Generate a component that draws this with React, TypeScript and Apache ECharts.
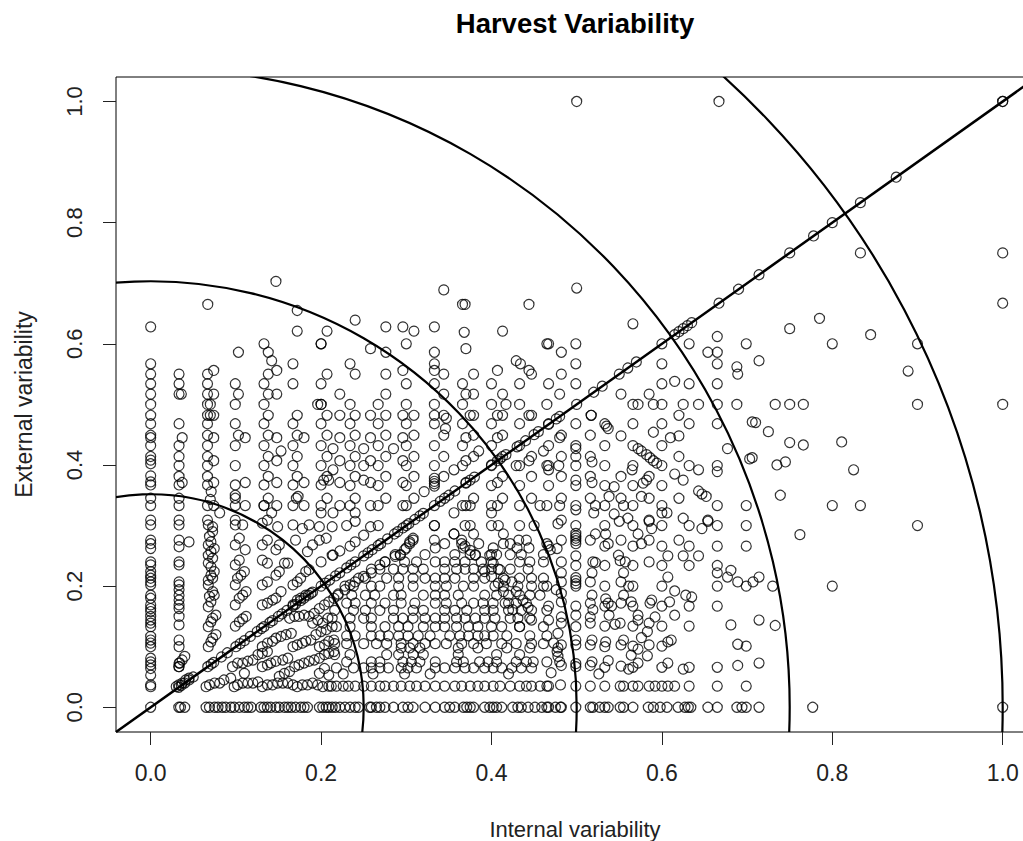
import React, { useEffect, useRef } from "react";
import * as echarts from "echarts";

const title = "Harvest Variability";
const xName = "Internal variability";
const yName = "External variability";
const tickValues = [0, 0.2, 0.4, 0.6, 0.8, 1.0];
const arcRadii = [0.25, 0.5, 0.75, 1.0];
const identityEnds = [-0.0407, 1.04];

// equal internal and external variability
const diagonal = [.033,.036,.04,.045,.05,.067,.071,.074,.083,.09,.1,.105,.11,.117,.125,.13,.133,.14,.143,.15,.154,.16,.167,.17,.176,.18,.185,.19,.2,.205,.21,.217,.222,.23,.235,.24,.25,.255,.26,.267,.27,.278,.286,.29,.296,.3,.303,.31,.316,.32,.333,.34,.35,.357,.37,.375,.38,.4,.407,.41,.417,.43,.44,.45,.455,.467,.476,.48,.5,.52,.53,.55,.56,.57,.6,.615,.62,.625,.63,.635,.667,.69,.714,.75,.778,.8,.833,.875,1];

// chains of points visible in the dense part of the cloud: [x, y]
const chainsDense: [number, number][] = [
  [.22,.187],[.228,.194],[.234,.202],[.24,.207],[.25,.216],[.259,.222],[.269,.235],[.275,.24],[.287,.249],[.293,.251],[.298,.26],[.304,.273],[.308,.279],
  [.356,.286],[.365,.276],[.369,.266],[.375,.259],[.381,.251],[.388,.24],[.392,.224],[.4,.216],[.408,.205],[.414,.191],[.42,.172],[.425,.161],[.433,.133],
  [.398,.251],[.402,.238],[.41,.227],[.416,.21],[.424,.207],[.429,.191],[.437,.177],[.443,.165],[.447,.144],
];

// columns: [x, y, y, ...]
const columnsLeft: number[][] = [
  [0,0,.034,.037,.053,.064,.07,.075,.081,.1,.106,.111,.117,.133,.139,.144,.15,.158,.163,.169,.18,.185,.202,.207,.213,.218,.224,.235,.24,.262,.27,.276,.301,.309,.333,.345,.367,.372,.382,.402,.408,.414,.432,.445,.449,.468,.482,.5,.517,.534,.55,.567,.628],
  [.0333,.067,.073,.1,.111,.136,.15,.163,.169,.177,.185,.194,.202,.207,.235,.24,.265,.276,.301,.309,.333,.345,.367,.381,.399,.414,.432,.468,.517,.534,.55],
  [.0667,.309,.333,.367,.381,.399,.414,.432,.449,.468,.482,.5,.517,.534,.55],
  [.0993,.309,.333,.345,.35,.367,.399,.432,.468,.5,.534],
  [.133,.333,.367,.399,.432,.468,.5,.534,.6],
  [.167,.333,.367,.399,.432,.468,.534,.567],
  [.2,.321,.333,.367,.399,.432,.468,.5,.534,.6],
  [.0676,.301,.268,.251,.238,.21,.202,.166,.133,.1],
  [.0707,.273,.257,.232,.218,.174,.141,.108],
  [.0727,.298,.29,.246,.213,.191,.147,.114],
  [.0746,.262,.224,.185],
  [.0766,.152,.12],
  [.069,.282,.183],
  [.104,.279,.243,.18,.141],
  [.11,.224],
  [.106,.218],
  [.102,.213],
  [.112,.191,.15],
  [.108,.301,.185,.146],
  [.0993,.301,.268,.235,.202,.169,.134],
];

// rows: [y, x, x, ...]
const rowsUpper: number[][] = [
  [.703,.147],[.689,.344],[.692,.5],[.665,.067,.366,.369,.444],[.655,.172],[.639,.24],[.633,.566],[.628,.276,.296,.333],
  [.621,.172,.207,.309,.413],[.619,.368],[.612,.665],[.6,.2,.3,.465,.467,.499,.632,.699],[.592,.258,.37],[.586,.103,.138,.276,.333,.482,.654,.665],
  [.572,.142,.429,.714],[.567,.234,.333,.434,.499,.6,.665],[.562,.688],[.556,.074,.148,.296,.333,.407,.444],
  [.55,.138,.207,.24,.276,.344,.379,.447,.482,.689],[.538,.615],[.534,.3,.333,.366,.4,.433,.467,.499,.6,.632,.665],
  [.517,.036,.074,.103,.138,.148,.222,.276,.344,.37,.379,.413,.48,.552,.585],
  [.5,.07,.196,.2,.234,.267,.3,.333,.366,.4,.417,.433,.465,.566,.572,.59,.6,.625,.643,.665,.688],
  [.482,.07,.074,.138,.172,.207,.222,.24,.258,.276,.296,.309,.333,.344,.375,.379,.407,.413,.444,.447,.517,.517,.62],
  [.477,.347],[.471,.706],[.468,.234,.267,.3,.333,.366,.4,.433,.467,.499,.533,.566,.6,.632,.665],[.464,.535],[.46,.346,.537],
  [.454,.59],[.449,.103,.138,.172,.207,.24,.276,.309,.344,.379,.413,.482,.516],[.448,.552,.62],
  [.445,.037,.074,.111,.148,.18,.222,.258,.296,.37,.407,.48,.61],
  [.432,.234,.267,.3,.333,.366,.4,.433,.467,.499,.533,.566,.6],[.427,.214,.25,.285,.499,.572,.677],[.423,.153,.385,.461,.576],
  [.417,.582],[.414,.138,.172,.207,.24,.276,.309,.344,.379,.413,.447,.482,.499,.516,.62],[.412,.586,.706],
  [.407,.074,.148,.222,.258,.296,.37,.444,.59],[.405,.518],[.403,.594],
  [.399,.234,.25,.267,.3,.333,.366,.4,.429,.433,.465,.467,.479,.499,.533,.566,.6,.632,.665],
  [.392,.214,.356,.467,.565,.643],[.389,.665],[.385,.615],[.381,.138,.172,.207,.24,.276,.309,.344,.413,.447,.482,.516,.552,.585],
  [.378,.333],[.375,.203,.209,.25,.499,.582,.625],[.373,.333],
  [.371,.037,.074,.111,.148,.18,.222,.258,.296,.37,.407,.518],[.369,.333],[.37,.578],
  [.366,.234,.267,.3,.4,.433,.467,.499,.533,.566,.6],[.365,.333],[.364,.544],[.357,.643],[.356,.071,.321],[.352,.647],
  [.348,.173,.538,.576,.652],[.345,.138,.171,.207,.24,.276,.309,.345,.379,.413,.447,.482,.516,.552,.585,.62],[.343,.07],
  [.333,.074,.111,.133,.148,.18,.222,.234,.258,.267,.296,.3,.366,.37,.375,.4,.407,.433,.457,.465,.48,.499,.522,.533,.555,.566,.6,.665,.699],
  [.326,.499],[.321,.081,.142,.214,.24,.356,.4,.52,.6,.606],[.319,.544],[.312,.56,.625],
  [.309,.137,.482,.585,.654],[.307,.24,.55,.585,.654],[.304,.131],[.303,.478],
  [.301,.167,.186],[.3,.23,.267,.333,.333,.369,.375,.4,.408,.433,.45,.499,.533,.566,.6,.632,.665,.699],
  [.298,.149,.198,.213,.258],[.295,.178,.588,.647],
];

const rowsMiddle: number[][] = [
  [.287,.499],[.286,.356,.379,.414,.522,.534,.572],[.284,.25],[.283,.499],[.279,.206,.499],
  [.276,.137,.17,.198,.308,.333,.432,.441,.482,.516,.552,.585,.62],[.275,.499],[.273,.24,.045],
  [.27,.304,.345,.365,.385,.414,.422,.465,.499,.537,.576],[.268,.131,.151,.19],[.266,.234,.467,.533,.566,.6,.632,.665,.699],
  [.263,.3,.334,.367,.402,.43,.444],[.262,.477],[.26,.147,.111,.469],[.258,.222],[.257,.184],
  [.252,.287,.293,.322,.357,.375,.381,.4,.406,.422,.435,.461],[.251,.213,.214,.549],[.25,.499,.607,.625,.643],
  [.243,.131],[.242,.551],[.24,.2,.275,.298,.312,.334,.345,.357,.369,.4,.433,.445,.461,.482,.519,.557,.585],[.239,.522],
  [.238,.137,.157,.161],[.234,.499,.533,.566,.6,.632,.665],[.228,.259,.269,.285,.296,.308,.32,.345,.359,.369,.379,.39,.4,.408,.422,.443],
  [.227,.186],[.226,.681],[.224,.151,.182],[.222,.482,.518,.555,.665],[.218,.147],
  [.215,.607,.677,.714],[.214,.499],[.213,.176,.244,.252,.277,.291,.308,.322,.334,.345,.357,.379,.392,.414,.433,.447,.461],
  [.209,.499],[.207,.137,.172,.482,.516,.552,.689,.707],[.204,.499],[.202,.131,.167],
  [.2,.228,.238,.259,.269,.291,.308,.334,.347,.367,.379,.404,.414,.431,.447,.461,.465,.499,.533,.561,.566,.6,.665,.699],
  [.194,.476],[.192,.615],[.191,.153],[.188,.188,.482],[.185,.182,.22,.236,.252,.263,.285,.294,.32,.334,.345,.361,.392,.406,.42,.433,.445,.457,.518,.555,.628],
  [.182,.635],[.18,.147,.176,.215],[.179,.534],[.177,.143,.172,.588],[.174,.209,.482,.564,.609],
  [.172,.137,.23,.24,.259,.275,.294,.31,.334,.347,.365,.379,.39,.402,.416,.429,.441,.516,.537,.552,.586],
  [.169,.131,.167,.204],[.167,.467,.499,.533,.541,.566,.6,.632,.665],[.163,.198],
  [.161,.519],[.16,.216,.238,.252,.269,.285,.308,.32,.345,.357,.371,.392,.402,.42,.435,.447,.465],
  [.155,.192],[.152,.18,.499,.538,.572,.615],[.15,.169,.174,.186],[.149,.482,.516,.592],
  [.147,.163,.208,.213,.234,.25,.259,.285,.296,.308,.322,.334,.345,.359,.369,.381,.392,.404,.422,.431,.445],
  [.144,.196,.467,.572,.714],[.139,.19,.202,.482,.516,.551,.585],[.137,.545],[.136,.681],
  [.134,.533,.566,.6,.632],[.133,.213,.218,.234,.259,.275,.291,.302,.32,.334,.345,.359,.373,.384,.4,.412,.433,.461,.499],
];

const rowsLower: number[][] = [
  [.128,.206],[.125,.2,.583],[.122,.165,.478],[.12,.159,.194],
  [.118,.23,.24,.259,.269,.279,.291,.302,.314,.328,.351,.363,.373,.384,.392,.402,.418,.445,.465],
  [.117,.153],[.115,.576],[.114,.147],[.111,.188,.215,.499,.518,.555,.611],[.109,.143,.182,.209],[.108,.534,.607],
  [.106,.137,.178,.473],[.105,.216,.23,.25,.265,.277,.294,.308,.322,.334,.347,.365,.379,.394,.412,.429,.447,.461],
  [.104,.689],[.103,.172,.204,.482,.499,.516,.552,.585],[.101,.566,.6,.699],[.1,.131,.167,.198,.533],
  [.098,.294,.304,.316,.361,.384,.418,.445,.478],[.096,.572],[.092,.137,.215,.477],[.089,.131,.209],
  [.087,.126,.204,.216,.234,.277,.291,.308,.32,.361,.406,.433],[.086,.564],[.085,.583],[.084,.04,.478],[.081,.161,.198],
  [.078,.037,.12,.155,.192],[.077,.537],[.076,.114,.147,.186],
  [.075,.23,.259,.269,.296,.306,.316,.334,.359,.367,.386,.396,.406,.429,.441,.449,.465,.48,.518],
  [.073,.034,.102,.108,.141,.18,.572,.607,.714],[.072,.499],[.07,.137,.174],[.069,.482,.516,.689],[.068,.552],
  [.067,.033,.096,.131,.169,.499],[.066,.533,.566,.6,.632,.665],[.065,.218,.238,.25,.259,.269,.279,.294,.302,.312,.334,.345,.357,.369,.379,.392,.402,.412,.424,.435,.447],
  [.064,.204],[.063,.561,.625],[.059,.163],[.057,.47],[.056,.11,.157,.198],[.055,.226,.261,.298,.328,.42,.526],[.053,.209],[.051,.151],
  [.048,.045,.094],[.045,.041,.086],[.042,.126],
  [.04,.037,.075,.081,.108,.114,.12,.149,.155,.161,.19],
  [.037,.033,.069,.102,.137,.143,.167,.178,.184,.196,.481],
  [.035,.209,.212,.218,.226,.232,.24,.25,.259,.269,.275,.285,.294,.304,.312,.322,.334,.345,.357,.365,.375,.384,.392,.402,.41,.422,.433,.441,.447,.457,.465,.467,.499,.516,.533,.551,.555,.566,.572,.585,.592,.6,.607,.615,.632,.665,.699],
  [.034,.03,.065,.098,.131,.172,.202],
];

const rowZero = [.033,.035,.04,.065,.069,.075,.079,.084,.088,.094,.098,.104,.11,.114,.118,.129,.133,.137,.141,.147,.151,.157,.161,.165,.17,.176,.18,.184,.198,.202,.206,.209,.213,.217,.222,.228,.234,.24,.244,.257,.259,.265,.269,.275,.285,.296,.302,.308,.322,.334,.345,.351,.357,.367,.371,.375,.379,.392,.398,.402,.406,.412,.425,.431,.435,.443,.451,.459,.465,.467,.475,.481,.482,.499,.516,.519,.527,.533,.537,.551,.555,.566,.584,.59,.598,.606,.619,.627,.631,.634,.654,.665,.688,.694,.699,.714,.777,1];

// columns on the right of the cloud: [x, y, y, ...]
const columnsRight: number[][] = [
  [.5,1],[.667,1],[1,1,.75,.667,.5],[.833,.75,.333],[.75,.625,.5,.437],[.785,.642],[.845,.615],[.8,.6,.333,.2],
  [.9,.6,.5,.3],[.889,.555],[.825,.392],[.811,.438],[.733,.5],[.766,.5,.433],[.739,.35],[.735,.4],[.745,.405],[.725,.455],[.71,.47],[.703,.41],[.762,.285],[.73,.2],[.733,.135],
];

type Pt = [number, number];
const points: Pt[] = [
  ...diagonal.map((v): Pt => [v, v]),
  ...rowZero.map((v): Pt => [v, 0]),
  ...chainsDense,
  ...[...columnsLeft, ...columnsRight].flatMap(([x, ...ys]) => ys.map((y): Pt => [x, y])),
  ...[...rowsUpper, ...rowsMiddle, ...rowsLower].flatMap(([y, ...xs]) => xs.map((x): Pt => [x, y])),
];

const FONT = "'Liberation Sans', Arial, sans-serif";

export default function App() {
  const ref = useRef<HTMLDivElement>(null);
  useEffect(() => {
    document.body.style.margin = "0";
    const chart = echarts.init(ref.current!, undefined, { renderer: "svg" });
    chart.setOption({
      animation: false,
      backgroundColor: "#fff",
      textStyle: { fontFamily: FONT },
      title: {
        text: title,
        left: 570,
        top: 4,
        textAlign: "center",
        textStyle: { fontFamily: FONT, fontSize: 27.5, fontWeight: "bold", color: "#000" },
      },
      grid: { left: 116, top: 77, width: 908, height: 655, show: true, borderColor: "#000", borderWidth: 1, backgroundColor: "transparent", containLabel: false, outerBoundsMode: "none" },
      xAxis: {
        type: "value",
        min: -0.0407,
        max: 1.025,
        name: xName,
        nameLocation: "middle",
        nameGap: 86,
        nameTextStyle: { fontFamily: FONT, fontSize: 22, color: "#222", padding: [0, 0, 0, 10] },
        splitLine: { show: false },
        axisLine: { show: false, onZero: false },
        axisTick: { show: true, length: 13, customValues: tickValues, lineStyle: { color: "#222" } },
        axisLabel: { margin: 29, fontSize: 23, color: "#222", fontFamily: FONT, customValues: tickValues, formatter: (v: number) => v.toFixed(1) },
      },
      yAxis: {
        type: "value",
        min: -0.0408,
        max: 1.0404,
        name: yName,
        nameLocation: "middle",
        nameGap: 81,
        nameRotate: 90,
        nameTextStyle: { fontFamily: FONT, fontSize: 23, color: "#222" },
        splitLine: { show: false },
        axisLine: { show: false, onZero: false },
        axisTick: { show: true, length: 13, customValues: tickValues, lineStyle: { color: "#222" } },
        axisLabel: { margin: 31, fontSize: 22, color: "#222", fontFamily: FONT, rotate: 90, customValues: tickValues, formatter: (v: number) => v.toFixed(1), verticalAlign: "bottom", align: "center" },
      },
      series: [
        {
          type: "scatter",
          data: points,
          symbol: "circle",
          symbolSize: 10,
          silent: true,
          itemStyle: { color: "transparent", borderColor: "#000", borderWidth: 1.2 },
        },
        {
          type: "line",
          data: identityEnds.map((v) => [v, v]),
          symbol: "none",
          silent: true,
          lineStyle: { color: "#000", width: 2.5 },
        },
        {
          type: "custom",
          clip: true,
          silent: true,
          data: arcRadii.map((r) => [0, 0, r]),
          encode: { x: 0, y: 1 },
          renderItem: (_p: any, api: any) => {
            const c = api.coord([api.value(0), api.value(1)]);
            const r = api.size([api.value(2), 0])[0];
            return {
              type: "circle",
              shape: { cx: c[0], cy: c[1], r },
              style: { fill: "none", stroke: "#000", lineWidth: 2.2 },
            };
          },
        },
      ],
    });
    return () => chart.dispose();
  }, []);
  return <div ref={ref} style={{ width: 1023, height: 841 }} />;
}
